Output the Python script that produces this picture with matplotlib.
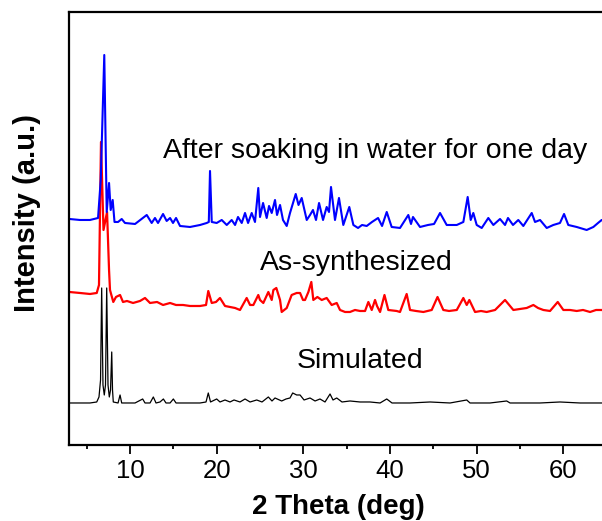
import numpy as np
from matplotlib import pyplot as plt
from matplotlib.ticker import MultipleLocator

plt.rcParams['font.family'] = ['Liberation Sans', 'DejaVu Sans']

# XRD patterns (2 theta in deg, intensity in a.u., offset already included)
sim_theta = [3.0, 5.38, 6.16, 6.42, 6.60, 6.73, 6.88, 7.03, 7.17, 7.31, 7.46, 7.61, 7.75, 7.89,
             7.98, 8.07, 8.62, 8.85, 9.04, 10.58, 11.46, 11.73, 12.31, 12.69, 13.0, 13.46, 13.85,
             14.15, 14.62, 15.0, 15.31, 16.92, 18.08, 18.77, 19.03, 19.29, 20.0, 20.38, 20.96,
             21.54, 22.0, 22.69, 23.27, 23.85, 24.62, 25.23, 25.96, 26.38, 26.73, 27.5, 28.0,
             28.46, 28.77, 29.23, 29.62, 30.08, 30.77, 31.35, 31.92, 32.5, 33.08, 33.42, 33.85,
             34.46, 35.38, 36.54, 37.69, 38.85, 39.62, 40.23, 42.31, 44.62, 46.92, 48.85, 49.23,
             51.54, 53.46, 53.85, 57.31, 59.61, 61.92, 65.04]
sim_int = [42, 42, 43, 48, 65, 157, 60, 50, 60, 157, 60, 48, 55, 93,
           55, 43, 42, 50, 42, 42, 46, 42, 42, 48, 42, 43, 46,
           42, 42, 46, 42, 42, 42, 43, 52, 43, 46, 43, 45,
           43, 45, 43, 46, 43, 45, 43, 48, 44, 47, 44, 46,
           47, 52, 50, 50, 45, 47, 44, 46, 43, 51, 45, 47,
           43, 44, 43, 43, 42, 46, 42, 42, 43, 42, 45, 42,
           42, 44, 42, 42, 43, 42, 42]

syn_theta = [3.0, 4.23, 5.38, 6.16, 6.42, 6.65, 6.94, 7.35, 7.58, 7.69, 8.07, 8.38, 8.85, 9.19,
             9.65, 10.35, 11.15, 11.73, 12.31, 13.12, 13.81, 14.62, 15.31, 16.12, 16.92, 18.08,
             18.77, 19.03, 19.43, 19.92, 20.38, 20.96, 21.54, 22.12, 22.69, 23.46, 23.85, 24.23,
             24.8, 25.0, 25.38, 25.96, 26.35, 26.54, 26.88, 27.31, 27.5, 28.08, 28.65, 29.23,
             29.62, 29.96, 30.19, 30.58, 30.92, 31.15, 31.62, 32.12, 32.69, 33.27, 33.85, 34.23,
             34.81, 35.38, 35.96, 36.54, 37.12, 37.5, 37.89, 38.27, 38.5, 38.85, 39.36, 39.8,
             40.77, 41.15, 41.92, 42.31, 43.0, 43.85, 44.81, 45.48, 46.15, 46.81, 47.7, 48.46,
             48.85, 49.15, 49.81, 50.5, 51.15, 52.12, 53.27, 54.23, 55.0, 55.77, 56.54, 57.08,
             57.69, 58.46, 59.35, 60.0, 60.77, 61.54, 62.27, 63.08, 63.77, 64.42, 65.04]
syn_int = [153, 152, 151, 152, 160, 303, 215, 233, 175, 155, 143, 148, 150, 143,
           144, 142, 144, 147, 142, 143, 140, 142, 140, 140, 139, 139,
           140, 154, 142, 143, 147, 139, 138, 137, 135, 147, 140, 140,
           150, 145, 142, 153, 145, 155, 157, 145, 133, 137, 150, 152,
           152, 145, 145, 153, 163, 145, 148, 145, 147, 140, 142, 135,
           133, 133, 135, 134, 134, 143, 135, 145, 139, 133, 150, 135,
           134, 133, 151, 135, 134, 133, 135, 148, 135, 134, 135, 147,
           140, 145, 133, 134, 133, 135, 145, 135, 136, 137, 140, 137,
           135, 134, 143, 135, 135, 134, 135, 133, 135, 135, 134]

soak_theta = [3.0, 4.23, 5.38, 6.31, 6.62, 7.03, 7.31, 7.58, 7.77, 8.0, 8.21, 8.62, 9.04, 9.42,
              10.58, 11.93, 12.5, 12.88, 13.23, 13.81, 14.23, 14.62, 14.96, 15.31, 15.77, 16.92,
              18.08, 18.85, 19.09, 19.23, 19.43, 20.0, 20.58, 21.16, 21.73, 22.12, 22.46, 22.89,
              23.27, 23.62, 24.04, 24.42, 24.8, 25.0, 25.35, 25.77, 26.04, 26.35, 26.73, 26.96,
              27.31, 27.65, 28.08, 28.46, 29.12, 29.44, 29.81, 30.39, 30.77, 31.11, 31.46, 31.81,
              32.27, 32.69, 32.96, 33.19, 33.65, 34.11, 34.61, 35.3, 35.77, 36.31, 36.77, 37.31,
              37.92, 38.62, 39.08, 39.62, 40.19, 41.15, 42.11, 42.42, 42.65, 43.46, 44.38, 45.08,
              45.77, 46.54, 47.7, 48.46, 48.96, 49.31, 49.61, 50.0, 50.58, 51.34, 51.92, 52.69,
              53.27, 53.61, 54.19, 54.8, 55.38, 56.35, 56.73, 57.31, 58.08, 58.84, 59.61, 60.08,
              60.57, 61.54, 62.69, 63.46, 64.0, 64.42, 65.04]
soak_int = [226, 225, 225, 227, 265, 390, 233, 262, 235, 245, 223, 223, 226, 222,
            221, 230, 222, 227, 222, 231, 224, 227, 222, 227, 219, 218,
            220, 222, 223, 274, 223, 222, 225, 220, 225, 220, 228, 222,
            232, 222, 232, 223, 257, 228, 242, 227, 239, 232, 245, 230,
            240, 225, 219, 232, 251, 240, 247, 225, 230, 235, 225, 242,
            225, 238, 233, 258, 225, 247, 220, 238, 220, 217, 220, 219,
            223, 227, 219, 233, 218, 217, 230, 221, 228, 218, 220, 221,
            232, 220, 220, 223, 248, 225, 232, 220, 217, 227, 220, 226,
            220, 227, 220, 225, 219, 232, 223, 225, 217, 220, 222, 231,
            220, 218, 215, 218, 222, 225, 221]

labels = ['Simulated', 'As-synthesized', 'After soaking in water for one day']
label_x = [36.54, 36.08, 38.27]
label_y = [77, 175, 287]

fig = plt.figure(figsize=(6.02, 5.21), dpi=100)
ax = fig.add_axes([0.1152, 0.1459, 0.8926, 0.8311])

ax.plot(sim_theta, sim_int, color='black', lw=0.9)
ax.plot(syn_theta, syn_int, color='red', lw=1.6)
ax.plot(soak_theta, soak_int, color='blue', lw=1.5)

for txt, x, y in zip(labels, label_x, label_y):
    ax.text(x, y, txt, ha='center', va='baseline', fontsize=20.5)

ax.set_xlim(3, 65)
ax.set_ylim(0, 433)
ax.set_yticks([])
ax.xaxis.set_major_locator(MultipleLocator(10))
ax.xaxis.set_minor_locator(MultipleLocator(5))
ax.tick_params(axis='x', which='major', direction='out', length=6.5, width=1.3,
               labelsize=18.5, pad=3.5)
ax.tick_params(axis='x', which='minor', direction='out', length=3.2, width=1.3)
for s in ax.spines.values():
    s.set_linewidth(1.6)

fig.text(338.5 / 602, 1 - 514 / 521, '2 Theta (deg)', ha='center', va='baseline',
         fontsize=20, fontweight='bold')
fig.text(27.5 / 602, 1 - 212.5 / 521, 'Intensity (a.u.)', ha='center', va='center',
         rotation=90, fontsize=21, fontweight='bold')

fig.savefig('out.png', dpi=100)
